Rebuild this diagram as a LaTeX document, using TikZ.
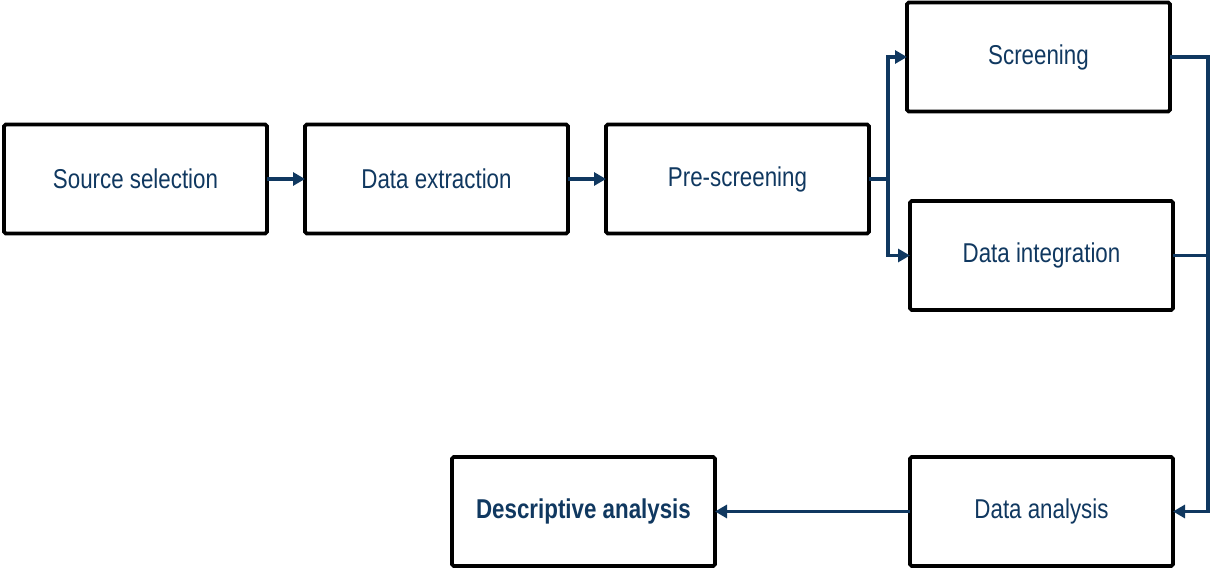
\documentclass[tikz,border=0pt]{standalone}
\usepackage{fontspec}
\setmainfont{Liberation Sans}[FakeStretch=0.82]
\usetikzlibrary{positioning,arrows.meta,calc}

\definecolor{navy}{RGB}{16,56,96}

\tikzset{
  stage/.style={draw=black, line width=2.1pt, rounded corners=1pt, outer sep=0pt,
    minimum width=5.26cm, minimum height=2.18cm, align=center, text=navy,
    font=\fontsize{15.5}{18}\selectfont},
  flow/.style={draw=navy, line width=1.8pt},
  link/.style={flow, -{Triangle[length=2.4mm,width=2.6mm]}},
}

\begin{document}
\begin{tikzpicture}[node distance=0.76cm]
  \useasboundingbox (0,0) rectangle (24.24,11.4);

  % Define nodes
  \node[stage]                              (src)   at (2.71,7.82) {Source selection};
  \node[stage, right=of src]                (ext)   {Data extraction};
  \node[stage, right=of ext]                (pre)   {Pre-screening};
  \node[stage, right=of pre, yshift=2.44cm] (scr)   {Screening};
  \node[stage, right=of pre, yshift=-1.53cm, xshift=0.06cm] (integ) {Data integration};
  \node[stage, below=2.94cm of integ]       (ana)   {Data analysis};
  \node[stage, left=3.9cm of ana, font=\fontsize{15.5}{18}\selectfont\bfseries] (desc) {Descriptive analysis};

  % Helper points
  \coordinate (fork) at ($(pre.east)+(0.38,0)$);
  \coordinate (rail) at ($(integ.east)+(0.7,0)$);

  % Connect the nodes
  \draw[link] (src) -- (ext);
  \draw[link] (ext) -- (pre);
  \draw[link] (pre.east) -- (fork) |- (scr.west);
  \draw[link] (fork) |- (integ.west);
  \draw[flow] (scr.east) -| (rail);
  \draw[link] (integ.east) -- (rail) |- (ana.east);
  \draw[link] (ana) -- (desc);

\end{tikzpicture}
\end{document}
